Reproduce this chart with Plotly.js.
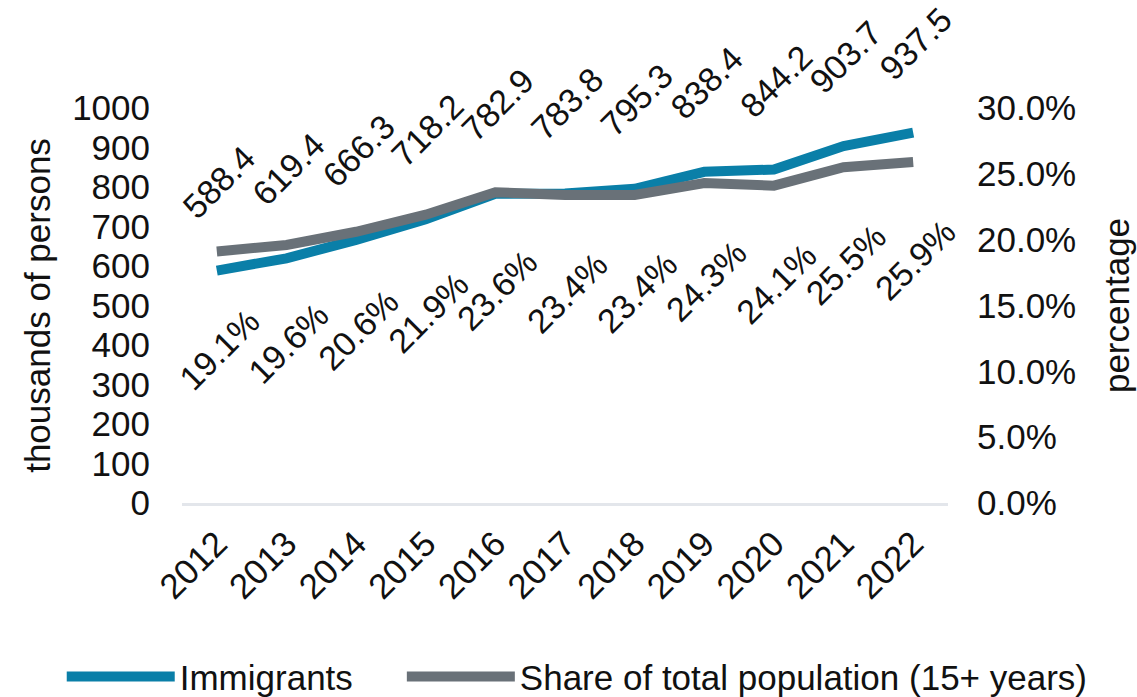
<!DOCTYPE html>
<html>
<head>
<meta charset="utf-8">
<script src="https://cdn.plot.ly/plotly-3.0.1.min.js"></script>
<style>
  html, body { margin: 0; padding: 0; background: #ffffff; }
  #chart { width: 1137px; height: 697px; }
</style>
</head>
<body>
<div id="chart"></div>
<script>
// ---- data ----
var years = ['2012', '2013', '2014', '2015', '2016', '2017', '2018', '2019', '2020', '2021', '2022'];
var immigrants = [588.4, 619.4, 666.3, 718.2, 782.9, 783.8, 795.3, 838.4, 844.2, 903.7, 937.5];   // thousands of persons
var sharePct = [19.1, 19.6, 20.6, 21.9, 23.6, 23.4, 23.4, 24.3, 24.1, 25.5, 25.9];               // % of total population 15+
var seriesNames = ['Immigrants', 'Share of total population (15+ years)'];

// ---- styles ----
var FONT = 'Liberation Sans, Arial, Helvetica, sans-serif';
var BLUE = '#0a7fa8';
var GRAY = '#697178';
var TXT = '#111111';

var traces = [
  {
    type: 'scatter', mode: 'lines', name: seriesNames[0],
    x: years, y: immigrants, yaxis: 'y',
    line: { color: BLUE, width: 10 },
    legend: 'legend', hoverinfo: 'x+y'
  },
  {
    type: 'scatter', mode: 'lines', name: seriesNames[1],
    x: years, y: sharePct, yaxis: 'y2',
    line: { color: GRAY, width: 10 },
    legend: 'legend2', hoverinfo: 'x+y'
  }
];

// data labels: positioned on the category axis by the category index
var annotations = [];
years.forEach(function (yr, i) {
  annotations.push({
    x: i, y: immigrants[i], xref: 'x', yref: 'y',
    text: immigrants[i].toFixed(1), showarrow: false, textangle: -45,
    xanchor: 'center', yanchor: 'middle', yshift: 89, xshift: 2,
    font: { family: FONT, size: 34, color: TXT }
  });
  annotations.push({
    x: i, y: sharePct[i], xref: 'x', yref: 'y2',
    text: sharePct[i].toFixed(1) + '%', showarrow: false, textangle: -45,
    xanchor: 'center', yanchor: 'middle', yshift: -98, xshift: 2,
    font: { family: FONT, size: 34, color: TXT }
  });
});

var layout = {
  width: 1137, height: 697,
  margin: { l: 182, r: 189, t: 108, b: 194, autoexpand: false },
  paper_bgcolor: '#ffffff', plot_bgcolor: '#ffffff',
  font: { family: FONT, size: 35, color: TXT },
  showlegend: true,
  xaxis: {
    type: 'category', range: [-0.5, 10.5],
    showgrid: false, zeroline: false,
    showline: true, linecolor: '#e3e6eb', linewidth: 3,
    ticks: 'outside', ticklen: 3, tickcolor: 'rgba(0,0,0,0)',
    tickangle: -45, tickfont: { family: FONT, size: 35, color: TXT },
    fixedrange: true
  },
  yaxis: {
    range: [0, 1000], dtick: 100, tick0: 0,
    showgrid: false, zeroline: false, showline: false,
    ticks: 'outside', ticklen: 24, tickcolor: 'rgba(0,0,0,0)',
    tickfont: { family: FONT, size: 35, color: TXT },
    title: { text: 'thousands of persons', font: { family: FONT, size: 35, color: TXT }, standoff: 10 },
    fixedrange: true
  },
  yaxis2: {
    overlaying: 'y', side: 'right',
    range: [0, 30], dtick: 5, tick0: 0,
    tickformat: '.1f', ticksuffix: '%',
    showgrid: false, zeroline: false, showline: false,
    ticks: 'outside', ticklen: 21, tickcolor: 'rgba(0,0,0,0)',
    tickfont: { family: FONT, size: 35, color: TXT },
    title: { text: 'percentage', font: { family: FONT, size: 35, color: TXT }, standoff: 29 },
    fixedrange: true
  },
  legend: {
    orientation: 'h', x: -0.157, y: -0.44, xanchor: 'left', yanchor: 'middle',
    itemwidth: 108, font: { family: FONT, size: 35, color: TXT },
    bgcolor: 'rgba(0,0,0,0)', borderwidth: 0
  },
  legend2: {
    orientation: 'h', x: 0.287, y: -0.44, xanchor: 'left', yanchor: 'middle',
    itemwidth: 108, font: { family: FONT, size: 35, color: TXT },
    bgcolor: 'rgba(0,0,0,0)', borderwidth: 0
  },
  annotations: annotations
};

Plotly.newPlot('chart', traces, layout, { displayModeBar: false, staticPlot: true });
</script>
</body>
</html>
